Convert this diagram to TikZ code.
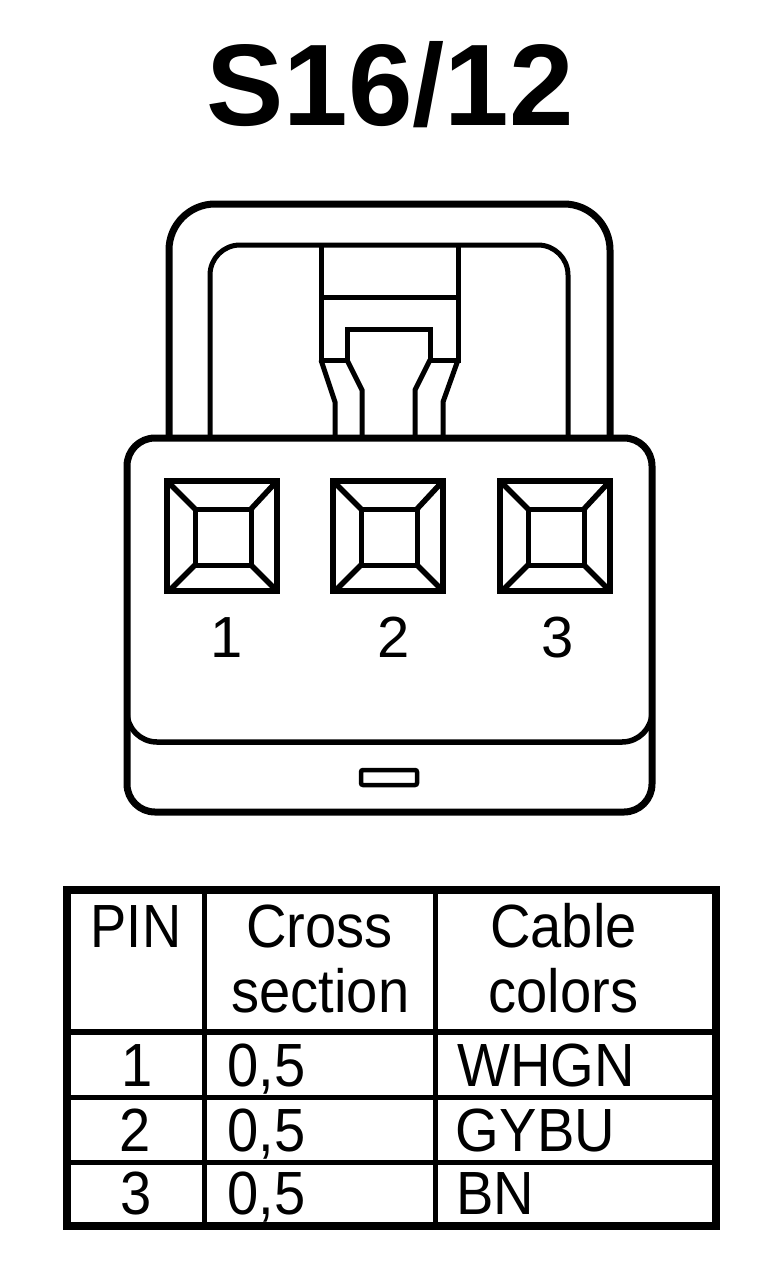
\documentclass[tikz,border=0pt]{standalone}
\usepackage{fontspec}
\setmainfont{Liberation Sans}
\tikzset{
  x=1pt,y=-1pt,
  heavy/.style={line width=7pt,line join=round,line cap=butt},
  medium/.style={line width=5pt,line join=miter},
  tablab/.style={anchor=base,inner sep=0pt,font=\fontsize{61}{61}\selectfont},
  numlab/.style={anchor=base,inner sep=0pt,font=\fontsize{58}{58}\selectfont},
  titlelab/.style={anchor=base,inner sep=0pt,font=\bfseries\fontsize{116}{116}\selectfont},
}
\newcommand{\cond}[1]{\scalebox{0.92}[1]{#1}}
\newcommand{\socket}[2]{%
  \begin{scope}[shift={(#1,#2)}]
    \draw[line width=6pt] (0,0) rectangle (110,110);
    \draw[medium] (28,28) rectangle (84,84);
    \draw[line width=5.5pt] (2,2) -- (28,28) (110,0) -- (84,28) (2,110) -- (28,84) (110,110) -- (84,84);
  \end{scope}}
\begin{document}
\begin{tikzpicture}
\useasboundingbox (0,0) rectangle (768,1272);
\fill[white] (0,0) rectangle (768,1272);
\node[titlelab] (title) at (390,125) {S16/12};
% handle
\draw[heavy,rounded corners=46pt] (169,438) -- (169,204) -- (610,204) -- (610,438);
\draw[medium,rounded corners=30pt] (210,438) -- (210,245) -- (568,245) -- (568,438);
% latch
\draw[medium] (321,245) -- (321,360) -- (347,360) -- (347,329) -- (430,329) -- (430,360) -- (458,360) -- (458,245);
\draw[medium] (321,297) -- (458,297);
\draw[medium] (321,360) -- (335,402) -- (335,438);
\draw[medium] (347,360) -- (362,390) -- (362,438);
\draw[medium] (430,360) -- (415,390) -- (415,438);
\draw[medium] (458,360) -- (443,402) -- (443,438);
% body
\draw[heavy,rounded corners=28pt] (127,438) rectangle (652,812);
\draw[line width=5.5pt,rounded corners=30pt] (127,700) -- (127,742) -- (652,742) -- (652,700);
\draw[line width=4.5pt,rounded corners=2pt] (361,770) rectangle (417,785);
% sockets
\socket{167}{481}
\socket{333}{481}
\socket{500}{481}
\node[numlab] (p1) at (227,657) {1};
\node[numlab] (p2) at (394,657) {2};
\node[numlab] (p3) at (558,657) {3};
% table
\draw[line width=8pt] (67,890) rectangle (716,1226);
\draw[line width=5pt] (204,890) -- (204,1226) (435,890) -- (435,1226);
\draw[line width=6pt] (67,1032) -- (716,1032);
\draw[line width=5pt] (67,1097) -- (716,1097) (67,1162) -- (716,1162);
\node[tablab] (h1) at (136,947) {\scalebox{0.89}[1]{PIN}};
\node[tablab] (h2a) at (319.5,947) {\cond{Cross}};
\node[tablab] (h2b) at (320.5,1012) {\cond{section}};
\node[tablab] (h3a) at (563.5,947) {\cond{Cable}};
\node[tablab] (h3b) at (563.5,1012) {\cond{colors}};
\node[tablab] (r1a) at (137,1086) {\cond{1}};
\node[tablab] (r2a) at (135.5,1151) {\cond{2}};
\node[tablab] (r3a) at (136,1214) {\cond{3}};
\node[tablab] (r1b) at (266.5,1086) {\cond{0,5}};
\node[tablab] (r2b) at (266.5,1151) {\cond{0,5}};
\node[tablab] (r3b) at (266.5,1214) {\cond{0,5}};
\node[tablab] (r1c) at (546,1086) {\cond{WHGN}};
\node[tablab] (r2c) at (535.5,1151) {\cond{GYBU}};
\node[tablab] (r3c) at (495.5,1214) {\cond{BN}};
\end{tikzpicture}
\end{document}
